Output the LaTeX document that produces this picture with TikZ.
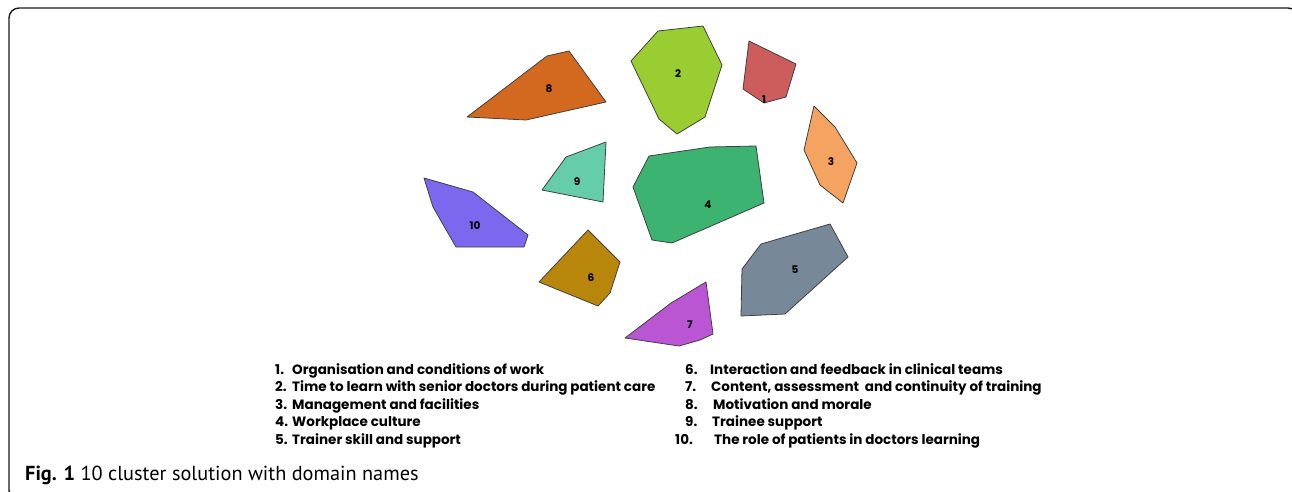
\documentclass[tikz,border=0pt]{standalone}
\usepackage{fontspec}
\setmainfont{PT Sans}
\newfontfamily\legendfont{Poppins}
\definecolor{cOne}{HTML}{CD5C5C}
\definecolor{cTwo}{HTML}{9ACD32}
\definecolor{cThree}{HTML}{F4A460}
\definecolor{cFour}{HTML}{3CB371}
\definecolor{cFive}{HTML}{778899}
\definecolor{cSix}{HTML}{B8860B}
\definecolor{cSeven}{HTML}{BA55D3}
\definecolor{cEight}{HTML}{D2691E}
\definecolor{cNine}{HTML}{66CDAA}
\definecolor{cTen}{HTML}{7B68EE}
\begin{document}
\begin{tikzpicture}[x=1pt,y=-1pt,
  cl/.style={draw=black!75,line width=0.8pt,line join=round},
  num/.style={inner sep=0pt,font=\legendfont\bfseries\fontsize{10.5}{10.5}\selectfont},
  item/.style={anchor=base west,inner sep=0pt,font=\legendfont\bfseries\fontsize{13.5}{13.5}\selectfont}]
  \useasboundingbox (0,0) rectangle (1292,492);
  \clip (0,0) rectangle (1292,492);
  \draw[line width=1.4pt,black!90,rounded corners=10pt] (9,8) rectangle (1298,500);
  % the ten clusters
  \draw[cl,fill=cEight] (467,117) -- (547,56) -- (569,51) -- (606,102) -- (526,120) -- cycle;
  \draw[cl,fill=cTwo] (658,31) -- (703,26) -- (722,65) -- (705,117) -- (677,134) -- (659,119) -- (631,61) -- cycle;
  \draw[cl,fill=cOne] (749,41) -- (796,64) -- (786,97) -- (764,103) -- (743,89) -- cycle;
  \draw[cl,fill=cThree] (814,106) -- (835,127) -- (857,163) -- (843,203) -- (820,185) -- (804,150) -- cycle;
  \draw[cl,fill=cNine] (566,157) -- (606,142) -- (603,202) -- (542,190) -- cycle;
  \draw[cl,fill=cFour] (649,156) -- (710,147) -- (756,146) -- (764,203) -- (672,243) -- (652,240) -- (633,187) -- cycle;
  \draw[cl,fill=cTen] (424,178) -- (473,192) -- (528,235) -- (524,247) -- (456,247) -- (433,207) -- cycle;
  \draw[cl,fill=cSix] (588,230) -- (620,262) -- (610,293) -- (598,306) -- (539,282) -- cycle;
  \draw[cl,fill=cFive] (830,224) -- (848,257) -- (785,314) -- (741,316) -- (742,269) -- (761,244) -- cycle;
  \draw[cl,fill=cSeven] (706,282) -- (713,334) -- (700,340) -- (679,346) -- (625,338) -- (671,303) -- cycle;
  \node (n1) at (764,100) [num] {1};
  \node (n2) at (678,74) [num] {2};
  \node (n3) at (831,162) [num] {3};
  \node (n4) at (708,205) [num] {4};
  \node (n5) at (795,270) [num] {5};
  \node (n6) at (591,278) [num] {6};
  \node (n7) at (690,325) [num] {7};
  \node (n8) at (549,89) [num] {8};
  \node (n9) at (577,182) [num] {9};
  \node (n10) at (475,226) [num] {10};
  % legend
  \node (k1) at (275,374) [item] {1.};
  \node (t1) at (292,374) [item] {Organisation and conditions of work};
  \node (k2) at (275,391.5) [item] {2.};
  \node (t2) at (292,391.5) [item] {Time to learn with senior doctors during patient care};
  \node (k3) at (275,409) [item] {3.};
  \node (t3) at (292,409) [item] {Management and facilities};
  \node (k4) at (275,426.5) [item] {4.};
  \node (t4) at (292,426.5) [item] {Workplace culture};
  \node (k5) at (275,444) [item] {5.};
  \node (t5) at (292,444) [item] {Trainer skill and support};
  \node (k6) at (685,374) [item] {6.};
  \node (t6) at (710,374) [item] {Interaction and feedback in clinical teams};
  \node (k7) at (685,391.5) [item] {7.};
  \node (t7) at (711,391.5) [item] {Content, assessment\ \ and continuity of training};
  \node (k8) at (685,409) [item] {8.};
  \node (t8) at (713,409) [item] {Motivation and morale};
  \node (k9) at (685,426.5) [item] {9.};
  \node (t9) at (712,426.5) [item] {Trainee support};
  \node (k10) at (675,444) [item] {10.};
  \node (t10) at (714,444) [item] {The role of patients in doctors learning};
  % caption
  \node (cap) at (25,480) [anchor=base west,inner sep=0pt,font=\fontsize{20.3}{20.3}\selectfont] {\textbf{Fig. 1} 10 cluster solution with domain names};
\end{tikzpicture}
\end{document}
